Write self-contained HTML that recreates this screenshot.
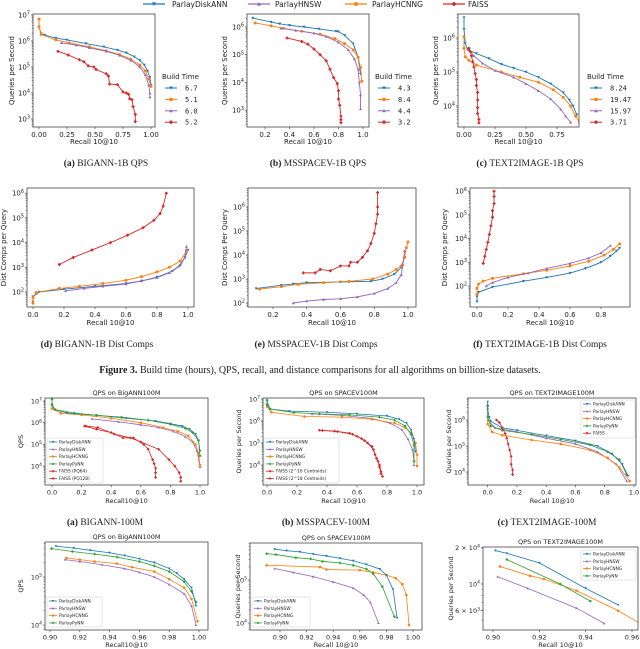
<!DOCTYPE html>
<html><head><meta charset="utf-8">
<style>
html,body{margin:0;padding:0;background:#fff;}
svg{display:block;}
</style></head>
<body>
<svg id="fig" width="640" height="649" viewBox="0 0 640 649" xmlns="http://www.w3.org/2000/svg"></svg>
<script>
// ===== DATA (recall, value) =====
// Row 1: QPS billion-scale
const a1_diskann=[[0,6.8e6],[0,3.5e6],[0.02,1.9e6],[0.05,1.7e6],[0.15,1.3e6],[0.25,1.1e6],[0.42,8e5],[0.58,6e5],[0.7,4.5e5],[0.78,3.5e5],[0.85,2.5e5],[0.9,1.8e5],[0.94,1.2e5],[0.97,7e4],[0.99,4e4],[1.0,2e4]];
const a1_hcnng=[[0,7e6],[0,3.5e6],[0.02,1.8e6],[0.15,1.1e6],[0.27,8.5e5],[0.45,6e5],[0.6,4.2e5],[0.72,3e5],[0.82,2e5],[0.9,1.2e5],[0.95,7e4],[0.98,3.5e4],[1.0,1.8e4]];
const a1_hnsw=[[0.2,8.5e5],[0.33,7e5],[0.45,5.5e5],[0.6,4e5],[0.72,2.8e5],[0.82,1.8e5],[0.9,1e5],[0.95,5e4],[0.98,2e4],[0.99,1e4],[0.99,7e3]];
const a1_faiss=[[0.17,4e5],[0.26,2.9e5],[0.36,1.9e5],[0.4,1.6e5],[0.44,1.1e5],[0.49,1e5],[0.51,8e4],[0.6,5.5e4],[0.62,4.5e4],[0.63,2.2e4],[0.7,2.1e4],[0.75,1.1e4],[0.78,1e4],[0.8,9e3],[0.81,6e3],[0.83,5.5e3],[0.84,3e3],[0.86,1.5e3],[0.86,8e2]];
const b1_diskann=[[0.1,2.1e6],[0.25,1.5e6],[0.32,1.3e6],[0.4,1.15e6],[0.52,1e6],[0.64,8.5e5],[0.78,7e5],[0.8,6.8e5],[0.85,5e5],[0.92,2.5e5],[0.96,8e4],[0.98,2e4]];
const b1_hcnng=[[0.12,1.4e6],[0.25,1.1e6],[0.35,9e5],[0.5,7e5],[0.65,5.5e5],[0.77,3.8e5],[0.85,2.5e5],[0.92,1.5e5],[0.96,8e4],[0.98,3.5e4],[0.99,1.1e4]];
const b1_hnsw=[[0.33,9e5],[0.45,7.5e5],[0.6,6e5],[0.7,4.5e5],[0.8,2.8e5],[0.88,1.5e5],[0.93,7e4],[0.96,3e4],[0.97,1e4],[0.98,3.5e3],[0.98,1.1e3]];
const b1_faiss=[[0.38,4e5],[0.5,3e5],[0.55,2.4e5],[0.6,1.6e5],[0.65,1e5],[0.7,6e4],[0.73,3e4],[0.76,1.5e4],[0.79,9e3],[0.8,5e3],[0.8,2.5e3],[0.81,1.5e3],[0.82,6e2],[0.82,4.5e2],[0.82,3.5e2]];
const c1_diskann=[[0,4e6],[0,1.8e6],[0.01,7e5],[0.03,4.5e5],[0.1,3.5e5],[0.2,2.5e5],[0.3,1.7e5],[0.4,1.3e5],[0.5,1e5],[0.6,7e4],[0.7,4.5e4],[0.8,2.5e4],[0.85,1.5e4],[0.88,1e4],[0.91,5.5e3]];
const c1_hcnng=[[0,1.1e6],[0,5e5],[0.01,2.8e5],[0.04,2.2e5],[0.1,1.6e5],[0.3,1e5],[0.45,7e4],[0.6,5e4],[0.72,3e4],[0.8,1.8e4],[0.86,1e4],[0.9,5e3],[0.93,3.5e3]];
const c1_hnsw=[[0.04,4.5e5],[0.08,3e5],[0.15,1.8e5],[0.25,1.1e5],[0.4,7e4],[0.5,4.5e4],[0.6,2.8e4],[0.7,1.6e4],[0.78,8e3],[0.82,5e3],[0.86,3.3e3]];
const c1_faiss=[[0.04,5e5],[0.05,4e5],[0.06,3e5],[0.07,2e5],[0.08,1.4e5],[0.09,9e4],[0.1,6e4],[0.1,4e4],[0.11,2.5e4],[0.11,1.5e4],[0.11,9e3],[0.11,6e3],[0.12,4e3],[0.12,3.2e3]];
// Row 2: Dist comps
const d2_faiss=[[0.17,1.3e3],[0.26,2.5e3],[0.38,5e3],[0.5,1e4],[0.61,2e4],[0.71,4e4],[0.78,8e4],[0.82,1.5e5],[0.84,3e5],[0.86,1e6]];
const d2_diskann=[[0,40],[0,65],[0.04,100],[0.2,130],[0.4,170],[0.6,220],[0.7,280],[0.8,400],[0.9,700],[0.95,1200],[0.98,2500],[1.0,5000]];
const d2_hcnng=[[0,35],[0,60],[0.02,95],[0.17,140],[0.3,170],[0.45,220],[0.6,300],[0.7,420],[0.8,650],[0.88,1000],[0.95,1800],[0.99,4500]];
const d2_hnsw=[[0.21,110],[0.33,140],[0.45,170],[0.6,210],[0.7,280],[0.8,380],[0.88,600],[0.94,1100],[0.98,2500],[0.99,7000]];
const e2_faiss=[[0.38,1.8e3],[0.45,1.8e3],[0.48,2.5e3],[0.54,2.2e3],[0.6,3.5e3],[0.65,3.5e3],[0.66,5e3],[0.7,5e3],[0.73,8e3],[0.76,1.5e4],[0.78,3e4],[0.8,8e4],[0.81,2e5],[0.82,5e5],[0.82,1e6],[0.82,4e6]];
const e2_diskann=[[0.1,400],[0.25,550],[0.32,620],[0.4,700],[0.6,750],[0.78,800],[0.85,1000],[0.92,1600],[0.96,3000],[0.98,8000]];
const e2_hcnng=[[0.12,380],[0.25,480],[0.35,600],[0.5,700],[0.65,800],[0.79,1000],[0.88,1600],[0.93,2500],[0.96,3500],[0.98,8000],[0.99,2e4],[1.0,3.5e4]];
const e2_hnsw=[[0.32,100],[0.4,120],[0.5,140],[0.6,150],[0.7,180],[0.8,250],[0.88,400],[0.93,700],[0.96,1500],[0.97,4000],[0.98,15000]];
const f2_faiss=[[0.04,900],[0.05,1800],[0.06,3500],[0.07,7000],[0.08,15000],[0.09,35000],[0.1,80000],[0.1,1.5e5],[0.11,3e5],[0.11,6e5],[0.11,1e6]];
const f2_diskann=[[0,22],[0,35],[0.01,55],[0.1,90],[0.3,160],[0.45,230],[0.6,350],[0.7,550],[0.8,1000],[0.86,1800],[0.9,3000],[0.92,4000]];
const f2_hcnng=[[0,45],[0,80],[0.01,120],[0.04,160],[0.1,210],[0.3,330],[0.45,460],[0.6,700],[0.72,1100],[0.82,2000],[0.88,3500],[0.92,6000]];
const f2_hnsw=[[0.06,100],[0.1,140],[0.2,230],[0.33,350],[0.45,550],[0.6,900],[0.72,1500],[0.8,2500],[0.86,5000]];
// Row 3: 100M QPS
const a3_diskann=[[0,1.2e7],[0,6e6],[0.02,4e6],[0.1,2.8e6],[0.3,2.2e6],[0.5,1.6e6],[0.7,1.2e6],[0.8,9e5],[0.88,7e5],[0.93,5e5],[0.97,3e5],[0.99,1.5e5],[1.0,5e4]];
const a3_pynn=[[0,1.2e7],[0,7e6],[0.02,4e6],[0.15,2.8e6],[0.3,2.2e6],[0.47,1.8e6],[0.65,1.3e6],[0.8,8.5e5],[0.9,5.5e5],[0.95,3.5e5],[0.99,1.5e5],[1.0,3e4]];
const a3_hcnng=[[0,4.5e6],[0.06,2.7e6],[0.2,2.3e6],[0.4,1.6e6],[0.6,1e6],[0.75,6e5],[0.85,4e5],[0.92,2.5e5],[0.97,1e5],[0.99,4e4],[1.0,1.1e4]];
const a3_hnsw=[[0.27,1.5e6],[0.45,1.1e6],[0.6,8e5],[0.72,6e5],[0.82,4e5],[0.9,2.3e5],[0.95,1.3e5],[0.98,5e4],[1.0,9e3]];
const a3_pq64=[[0.22,7e5],[0.3,5e5],[0.4,3.5e5],[0.48,2e5],[0.55,2e5],[0.62,1e5],[0.65,6e4],[0.68,2e4],[0.69,1.3e4],[0.7,8e3],[0.7,5e3],[0.7,3e3]];
const a3_pq128=[[0.23,7e5],[0.31,6e5],[0.42,3e5],[0.53,2e5],[0.6,1.3e5],[0.72,6e4],[0.79,2e4],[0.83,1e4],[0.86,5e3],[0.87,3e3],[0.87,2e3]];
const b3_diskann=[[0,8e6],[0.02,3.5e6],[0.15,2.8e6],[0.4,2.5e6],[0.6,2.1e6],[0.8,1.7e6],[0.88,1.2e6],[0.93,8e5],[0.96,4e5],[0.98,1.5e5],[0.99,4e4]];
const b3_pynn=[[0,9e6],[0,5.5e6],[0.02,3.5e6],[0.18,2.4e6],[0.35,2.1e6],[0.55,1.9e6],[0.75,1.5e6],[0.85,1.1e6],[0.92,6e5],[0.96,2.5e5],[0.98,8e4],[0.98,1.5e4]];
const b3_hcnng=[[0,4.5e6],[0.03,2.5e6],[0.25,1.6e6],[0.5,1.5e6],[0.7,1.2e6],[0.85,8e5],[0.92,5e5],[0.96,3e5],[0.99,1e5],[1.0,3e4],[1.0,9e3]];
const b3_hnsw=[[0.3,2.1e6],[0.5,1.8e6],[0.7,1.3e6],[0.82,8e5],[0.9,4e5],[0.94,1.5e5],[0.97,5e4],[0.98,1.5e4],[0.98,1e4]];
const b3_c16=[[0.35,3.8e5],[0.45,3.5e5],[0.55,2.8e5],[0.6,2e5],[0.65,1.3e5],[0.7,7e4],[0.72,3e4],[0.74,1.5e4],[0.75,8e3],[0.76,4e3]];
const b3_c18=[[0.37,3.7e5],[0.47,3.3e5],[0.57,2.5e5],[0.63,1.6e5],[0.67,1e5],[0.71,5e4],[0.73,2e4],[0.75,1e4],[0.76,5e3],[0.77,3e3]];
const c3_diskann=[[0,5e6],[0,2.5e6],[0.01,1.3e6],[0.02,9e5],[0.1,5e5],[0.2,4e5],[0.4,2.5e5],[0.6,1.6e5],[0.75,1e5],[0.85,5e4],[0.92,2e4],[0.96,7e3]];
const c3_pynn=[[0,3.5e6],[0,1.3e6],[0.02,6e5],[0.1,4e5],[0.3,2.8e5],[0.5,1.8e5],[0.7,1.1e5],[0.82,6e4],[0.9,3e4],[0.95,8e3]];
const c3_hcnng=[[0,3.5e6],[0,7e5],[0.03,3.5e5],[0.1,2.6e5],[0.3,1.7e5],[0.5,1.2e5],[0.7,7e4],[0.82,3.5e4],[0.9,1.5e4],[0.97,4.5e3]];
const c3_hnsw=[[0,1e6],[0.05,5e5],[0.2,3.5e5],[0.4,2e5],[0.6,1.2e5],[0.75,6e4],[0.88,2e4],[0.95,4.5e3]];
const c3_faiss=[[0.06,1e6],[0.08,8e5],[0.1,5e5],[0.12,3e5],[0.13,2e5],[0.14,1.2e5],[0.15,7e4],[0.16,4e4],[0.16,2e4],[0.17,1.2e4],[0.17,8e3]];
// Row 4: high-recall zoom
const a4_diskann=[[0.904,4.4e5],[0.916,4e5],[0.927,3.6e5],[0.94,3.2e5],[0.95,2.8e5],[0.96,2.4e5],[0.97,2e5],[0.98,1.5e5],[0.985,1.2e5],[0.99,9e4],[0.995,6e4],[0.998,2.5e4]];
const a4_pynn=[[0.901,3.9e5],[0.915,3.4e5],[0.93,3e5],[0.945,2.6e5],[0.96,2.1e5],[0.97,1.7e5],[0.98,1.3e5],[0.99,8e4],[0.995,5e4],[0.998,3e4]];
const a4_hcnng=[[0.911,2.5e5],[0.92,2.3e5],[0.93,2.1e5],[0.945,1.9e5],[0.955,1.6e5],[0.97,1.3e5],[0.98,9e4],[0.99,6e4],[0.995,3.5e4],[0.999,1.2e4]];
const a4_hnsw=[[0.91,2.3e5],[0.92,2.1e5],[0.935,1.8e5],[0.95,1.5e5],[0.96,1.25e5],[0.97,1e5],[0.98,7e4],[0.99,4.5e4],[0.995,2.5e4],[0.998,1e4]];
const b4_diskann=[[0.896,5.2e5],[0.905,4.8e5],[0.915,4.5e5],[0.925,4e5],[0.935,3.6e5],[0.945,3.2e5],[0.955,2.8e5],[0.965,2.3e5],[0.975,1.8e5],[0.98,1.3e5],[0.985,6e4],[0.988,1.3e4]];
const b4_pynn=[[0.89,4.1e5],[0.897,3.9e5],[0.912,3.3e5],[0.923,3.1e5],[0.932,2.7e5],[0.945,2.5e5],[0.955,2.2e5],[0.965,1.8e5],[0.97,1.4e5],[0.977,7e4],[0.986,1.4e4]];
const b4_hcnng=[[0.89,2.2e5],[0.93,2e5],[0.935,1.75e5],[0.96,1.7e5],[0.97,1.5e5],[0.98,1.3e5],[0.987,1.1e5],[0.992,8e4],[0.995,4.5e4],[0.997,9e3]];
const b4_hnsw=[[0.896,1.85e5],[0.91,1.5e5],[0.925,1.2e5],[0.94,9e4],[0.955,6.5e4],[0.963,4.5e4],[0.968,3e4],[0.974,1e4]];
const c4_diskann=[[0.901,1.9e4],[0.906,1.8e4],[0.92,1.5e4],[0.94,9.2e3],[0.954,6.7e3]];
const c4_hnsw=[[0.902,1.15e4],[0.915,9.2e3],[0.936,6.3e3],[0.948,4.7e3]];
const c4_hcnng=[[0.903,1.4e4],[0.916,1.17e4],[0.922,1.1e4],[0.936,8.8e3],[0.954,6e3],[0.965,4.5e3]];
const c4_pynn=[[0.906,1.6e4],[0.929,1e4],[0.942,7.2e3]];
// Tick labels
const xt_q = [0,0.25,0.5,0.75,1.0];
const xtl_q = ["0.00","0.25","0.50","0.75","1.00"];
const xt_b = [0.2,0.4,0.6,0.8,1.0];
const xtl_b = ["0.2","0.4","0.6","0.8","1.0"];
const xt_c = [0,0.25,0.5,0.75];
const xtl_c = ["0.00","0.25","0.50","0.75"];
const xt_d = [0,0.2,0.4,0.6,0.8,1.0];
const xtl_d = ["0.0","0.2","0.4","0.6","0.8","1.0"];
const xt_f = [0,0.2,0.4,0.6,0.8];
const xtl_f = ["0.0","0.2","0.4","0.6","0.8"];
const xt_h = [0.90,0.92,0.94,0.96,0.98,1.00];
const xtl_h = ["0.90","0.92","0.94","0.96","0.98","1.00"];
const xt_t = [0.90,0.92,0.94,0.96];
const xtl_t = ["0.90","0.92","0.94","0.96"];
const yt_c4 = [2e4,1e4,6e3];
const ytl_c4 = ["2 × 10^4","10^4","6 × 10^3"];

// ===== DRAWING =====
const NS="http://www.w3.org/2000/svg";
const svg=document.getElementById('fig');
const COL={blue:'#1f77b4',orange:'#ff7f0e',purple:'#9467bd',red:'#d62728',green:'#2ca02c'};
function mk(tag,attrs,parent){const e=document.createElementNS(NS,tag);for(const k in attrs)e.setAttribute(k,attrs[k]);(parent||svg).appendChild(e);return e;}
function txt(str,x,y,size,anchor,parent,family,weight){
  const t=mk('text',{x:x,y:y,'font-size':size,'text-anchor':anchor||'middle','font-family':family||'"DejaVu Sans", "Liberation Sans", sans-serif',fill:'#222'},parent);
  if(weight)t.setAttribute('font-weight',weight);
  const idx=str.indexOf('10^');
  if(idx>=0){
    t.appendChild(document.createTextNode(str.slice(0,idx+2)));
    const s=mk('tspan',{'font-size':size*0.7,dy:-size*0.4},t);s.textContent=str.slice(idx+3);
  } else {
    t.appendChild(document.createTextNode(str));
  }
  return t;
}
function marker(type,x,y,c,r,g){
  let e;
  if(type==='o'){e=mk('circle',{cx:x,cy:y,r:r,fill:c},g);}
  else if(type==='v'){e=mk('path',{d:`M${x-r},${y-r*0.8}L${x+r},${y-r*0.8}L${x},${y+r}Z`,fill:c},g);}
  else if(type==='^'){e=mk('path',{d:`M${x-r},${y+r*0.8}L${x+r},${y+r*0.8}L${x},${y-r}Z`,fill:c},g);}
  else {const w=r*0.45;e=mk('path',{d:`M${x-w},${y-r}h${2*w}v${r-w}h${r-w}v${2*w}h${-(r-w)}v${r-w}h${-2*w}v${-(r-w)}h${-(r-w)}v${-2*w}h${r-w}Z`,fill:c},g);}
  
  
}
let clipId=0;
function panel(cfg){
  const g=mk('g',{});
  
  
  const X=v=>cfg.xp0+(v-cfg.xv0)*(cfg.xp1-cfg.xp0)/(cfg.xv1-cfg.xv0);
  const Y=v=>cfg.yp0-(Math.log10(v)-cfg.ye0)*cfg.dec;
  const fs=cfg.fs||7;
  const eLo=Math.floor(cfg.ye0-(cfg.y1-cfg.yp0)/cfg.dec)-1, eHi=Math.ceil(cfg.ye0+(cfg.yp0-cfg.y0)/cfg.dec)+1;
  for(let e=eLo;e<=eHi;e++){for(let m=2;m<10;m++){const py=Y(m*Math.pow(10,e));if(py>cfg.y0&&py<cfg.y1)mk('line',{x1:cfg.x0-1.3,x2:cfg.x0,y1:py,y2:py,stroke:'#333','stroke-width':0.5},g);}}
  if(cfg.yv){cfg.yv.forEach((v,i)=>{const py=Y(v);mk('line',{x1:cfg.x0-2.2,x2:cfg.x0,y1:py,y2:py,stroke:'#333','stroke-width':0.6},g);const t=txt(cfg.yl[i],cfg.x0-3,py+fs*0.35,fs,'end',g);});}
  else{for(let e=eLo;e<=eHi;e++){const py=Y(Math.pow(10,e));if(py>=cfg.y0-0.5&&py<=cfg.y1+0.5){mk('line',{x1:cfg.x0-2.2,x2:cfg.x0,y1:py,y2:py,stroke:'#333','stroke-width':0.6},g);const t=txt('10^'+e,cfg.x0-3,py+fs*0.35,fs,'end',g);}}}
  cfg.xt.forEach((v,i)=>{const px=X(v);mk('line',{x1:px,x2:px,y1:cfg.y1,y2:cfg.y1+2.2,stroke:'#333','stroke-width':0.6},g);const t=txt(cfg.xtl[i],px,cfg.y1+3+fs,fs,'middle',g);});
  const cid='clip'+(clipId++);
  const cp=mk('clipPath',{id:cid},g);mk('rect',{x:cfg.x0,y:cfg.y0,width:cfg.x1-cfg.x0,height:cfg.y1-cfg.y0},cp);
  const sg=mk('g',{'clip-path':`url(#${cid})`},g);
  cfg.series.forEach(s=>{
    const pts=s.data.map(p=>[X(p[0]),Y(p[1])]);
    const pl=mk('polyline',{points:pts.map(p=>p.join(',')).join(' '),fill:'none',stroke:COL[s.c],'stroke-width':cfg.lw||0.9},sg);
    
    
    pts.forEach(p=>marker(s.m,p[0],p[1],COL[s.c],cfg.mr||1.5,sg));
  });
  const fr=mk('rect',{x:cfg.x0,y:cfg.y0,width:cfg.x1-cfg.x0,height:cfg.y1-cfg.y0,fill:'none',stroke:'#444','stroke-width':0.8},g);
  
  const xl=txt(cfg.xlabel,(cfg.x0+cfg.x1)/2,cfg.xly,fs,'middle',g);
  
  const yl=txt(cfg.ylabel,0,0,fs,'middle',g);
  yl.setAttribute('transform',`translate(${cfg.ylx},${(cfg.y0+cfg.y1)/2}) rotate(-90)`);
  
  if(cfg.title){const tt=txt(cfg.title,(cfg.x0+cfg.x1)/2,cfg.y0-3,fs,'middle',g);}
  if(cfg.leg){
    const L=cfg.leg;const lg=mk('g',{},g);
    
    mk('rect',{x:L.x,y:L.y,width:L.w,height:L.h,fill:'#fff','fill-opacity':0.85,stroke:'#ccc','stroke-width':0.5,rx:1},lg);
    L.items.forEach((it,i)=>{const yy=L.y+4+i*L.dy;
      mk('line',{x1:L.x+2,x2:L.x+10,y1:yy,y2:yy,stroke:COL[it.c],'stroke-width':0.8},lg);
      marker(it.m,L.x+6,yy,COL[it.c],1.2,lg);
      const t=txt(it.t,L.x+12,yy+1.5,4.3,'start',lg);});
  }
  return g;
}
function S(data,c,m,n){return {data:data,c:c,m:m,n:n};}

// Row 1
panel({name:'bigann-1b-qps',x0:33,x1:155,y0:14,y1:127,xv0:0,xp0:39,xv1:1,xp1:151,ye0:7,yp0:15,dec:26,xt:xt_q,xtl:xtl_q,xlabel:'Recall 10@10',xly:144,ylabel:'Queries per Second',ylx:14,
 series:[S(a1_diskann,'blue','v','diskann-line'),S(a1_hcnng,'orange','o','hcnng-line'),S(a1_hnsw,'purple','^','hnsw-line'),S(a1_faiss,'red','P','faiss-line')]});
panel({name:'msspacev-1b-qps',x0:247,x1:369,y0:14,y1:127,xv0:0.2,xp0:265,xv1:1.0,xp1:363,ye0:6,yp0:27,dec:27.7,xt:xt_b,xtl:xtl_b,xlabel:'Recall 10@10',xly:144,ylabel:'Queries per Second',ylx:227,
 series:[S(b1_diskann,'blue','v','diskann-line'),S(b1_hcnng,'orange','o','hcnng-line'),S(b1_hnsw,'purple','^','hnsw-line'),S(b1_faiss,'red','P','faiss-line')]});
panel({name:'text2image-1b-qps',x0:458,x1:579,y0:14,y1:127,xv0:0,xp0:464,xv1:0.75,xp1:557,ye0:6,yp0:38,dec:34,xt:xt_c,xtl:xtl_c,xlabel:'Recall 10@10',xly:144,ylabel:'Queries per Second',ylx:438,
 series:[S(c1_diskann,'blue','v','diskann-line'),S(c1_hcnng,'orange','o','hcnng-line'),S(c1_hnsw,'purple','^','hnsw-line'),S(c1_faiss,'red','P','faiss-line')]});
// Row 2
panel({name:'bigann-1b-dist-comps',x0:27,x1:194,y0:188,y1:307,xv0:0,xp0:33,xv1:1,xp1:188,ye0:2,yp0:292,dec:24.7,xt:xt_d,xtl:xtl_d,xlabel:'Recall 10@10',xly:325,ylabel:'Dist Comps per Query',ylx:6,
 series:[S(d2_faiss,'red','P','faiss-line'),S(d2_diskann,'blue','v','diskann-line'),S(d2_hcnng,'orange','o','hcnng-line'),S(d2_hnsw,'purple','^','hnsw-line')]});
panel({name:'msspacev-1b-dist-comps',x0:248,x1:416,y0:188,y1:307,xv0:0.2,xp0:273,xv1:1.0,xp1:408,ye0:2,yp0:303,dec:24,xt:xt_b,xtl:xtl_b,xlabel:'Recall 10@10',xly:325,ylabel:'Dist Comps Per Query',ylx:227,
 series:[S(e2_faiss,'red','P','faiss-line'),S(e2_diskann,'blue','v','diskann-line'),S(e2_hcnng,'orange','o','hcnng-line'),S(e2_hnsw,'purple','^','hnsw-line')]});
panel({name:'text2image-1b-dist-comps',x0:470,x1:630,y0:188,y1:307,xv0:0,xp0:477,xv1:0.8,xp1:601,ye0:2,yp0:286,dec:23.7,xt:xt_f,xtl:xtl_f,xlabel:'Recall 10@10',xly:325,ylabel:'Dist Comps per Query',ylx:447,
 series:[S(f2_faiss,'red','P','faiss-line'),S(f2_diskann,'blue','v','diskann-line'),S(f2_hcnng,'orange','o','hcnng-line'),S(f2_hnsw,'purple','^','hnsw-line')]});
// Row 3
const leg5=[{t:'ParlayDiskANN',c:'blue',m:'v'},{t:'ParlayHNSW',c:'purple',m:'^'},{t:'ParlayHCNNG',c:'orange',m:'o'},{t:'ParlayPyNN',c:'green',m:'P'}];
panel({name:'bigann-100m-qps',x0:45,x1:208,y0:398,y1:485,xv0:0,xp0:52,xv1:1,xp1:200,ye0:7,yp0:401,dec:21.7,fs:6.5,mr:1.3,lw:0.8,xt:xt_d,xtl:xtl_d,xlabel:'Recall10@10',xly:503,ylabel:'QPS',ylx:23,title:'QPS on BigANN100M',
 series:[S(a3_pq64,'red','P','faiss-pq64-line'),S(a3_pq128,'red','P','faiss-pq128-line'),S(a3_hnsw,'purple','^','hnsw-line'),S(a3_hcnng,'orange','o','hcnng-line'),S(a3_diskann,'blue','v','diskann-line'),S(a3_pynn,'green','P','pynn-line')],
 leg:{x:47,y:438,w:56,h:45,dy:7.3,items:leg5.concat([{t:'FAISS (PQ64)',c:'red',m:'P'},{t:'FAISS (PQ128)',c:'red',m:'P'}])}});
panel({name:'msspacev-100m-qps',x0:263,x1:424,y0:398,y1:485,xv0:0,xp0:267,xv1:1,xp1:417,ye0:7,yp0:399,dec:22,fs:6.5,mr:1.3,lw:0.8,xt:xt_d,xtl:xtl_d,xlabel:'Recall 10@10',xly:503,ylabel:'Queries per Second',ylx:241,title:'QPS on SPACEV100M',
 series:[S(b3_c16,'red','P','faiss-2-16-line'),S(b3_c18,'red','P','faiss-2-18-line'),S(b3_hnsw,'purple','^','hnsw-line'),S(b3_hcnng,'orange','o','hcnng-line'),S(b3_diskann,'blue','v','diskann-line'),S(b3_pynn,'green','P','pynn-line')],
 leg:{x:264,y:438,w:75,h:45,dy:7.3,items:leg5.concat([{t:'FAISS (2^16 Centroids)',c:'red',m:'P'},{t:'FAISS (2^18 Centroids)',c:'red',m:'P'}])}});
panel({name:'text2image-100m-qps',x0:468,x1:636,y0:398,y1:485,xv0:0,xp0:487.7,xv1:1,xp1:634,ye0:6,yp0:420,dec:26,fs:6.5,mr:1.3,lw:0.8,xt:xt_d,xtl:xtl_d,xlabel:'Recall 10@10',xly:503,ylabel:'Queries per Second',ylx:451,title:'QPS on TEXT2IMAGE100M',
 series:[S(c3_hnsw,'purple','^','hnsw-line'),S(c3_hcnng,'orange','o','hcnng-line'),S(c3_pynn,'green','P','pynn-line'),S(c3_diskann,'blue','v','diskann-line'),S(c3_faiss,'red','P','faiss-line')],
 leg:{x:581,y:400,w:54,h:38,dy:7.3,items:leg5.concat([{t:'FAISS',c:'red',m:'P'}])}});
// Row 4
panel({name:'bigann-100m-high-recall',x0:45,x1:208,y0:542,y1:630,xv0:0.9,xp0:50,xv1:1.0,xp1:199,ye0:5,yp0:577,dec:48,fs:6.5,mr:1.3,lw:0.8,xt:xt_h,xtl:xtl_h,xlabel:'Recall10@10',xly:647,ylabel:'QPS',ylx:23,title:'QPS on BigANN100M',
 series:[S(a4_hnsw,'purple','^','hnsw-line'),S(a4_hcnng,'orange','o','hcnng-line'),S(a4_pynn,'green','P','pynn-line'),S(a4_diskann,'blue','v','diskann-line')],
 leg:{x:47,y:597,w:55,h:30,dy:7.3,items:leg5}});
panel({name:'spacev-100m-high-recall',x0:250,x1:422,y0:543,y1:630,xv0:0.9,xp0:280,xv1:1.0,xp1:413,ye0:5,yp0:580,dec:43,fs:6.5,mr:1.3,lw:0.8,xt:xt_h,xtl:xtl_h,xlabel:'Recall 10@10',xly:647,ylabel:'Queries per Second',ylx:240,title:'QPS on SPACEV100M',
 series:[S(b4_hnsw,'purple','^','hnsw-line'),S(b4_hcnng,'orange','o','hcnng-line'),S(b4_pynn,'green','P','pynn-line'),S(b4_diskann,'blue','v','diskann-line')],
 leg:{x:252,y:597,w:58,h:30,dy:7.3,items:leg5}});
panel({name:'text2image-100m-high-recall',x0:483,x1:638,y0:547,y1:630,xv0:0.9,xp0:493,xv1:0.96,xp1:632,ye0:4,yp0:584,dec:120,fs:6.5,mr:1.3,lw:0.8,xt:xt_t,xtl:xtl_t,yv:yt_c4,yl:ytl_c4,xlabel:'Recall 10@10',xly:647,ylabel:'Queries per Second',ylx:453,title:'QPS on TEXT2IMAGE100M',
 series:[S(c4_hnsw,'purple','^','hnsw-line'),S(c4_hcnng,'orange','o','hcnng-line'),S(c4_pynn,'green','P','pynn-line'),S(c4_diskann,'blue','v','diskann-line')],
 leg:{x:581,y:550,w:55,h:30,dy:7.3,items:leg5}});

// Top legend
const tl=mk('g',{});
[[143,172,'ParlayDiskANN','blue','v'],[248,275,'ParlayHNSW','purple','^'],[345,372,'ParlayHCNNG','orange','o'],[443,468,'FAISS','red','P']].forEach(a=>{
  mk('line',{x1:a[0],x2:a[0]+22,y1:4,y2:4,stroke:COL[a[3]],'stroke-width':1.3},tl);
  marker(a[4],a[0]+11,4,COL[a[3]],2,tl);
  const t=txt(a[2],a[1],7,7.5,'start',tl);
});
// Build time legends
function btLeg(x,vals){
  const g=mk('g',{});
  const t=txt('Build Time',x,79,7,'start',g);
  const cs=[['blue','v'],['orange','o'],['purple','^'],['red','P']];
  vals.forEach((v,i)=>{const y=88+i*11.4;
    mk('line',{x1:x+3,x2:x+15,y1:y,y2:y,stroke:COL[cs[i][0]],'stroke-width':1},g);
    marker(cs[i][1],x+9,y,COL[cs[i][0]],1.8,g);
    const tt=txt(v,x+23,y+2.5,7,'start',g,'"DejaVu Sans Mono", "Liberation Mono", monospace');});
}
btLeg(162,['6.7','5.1','6.0','5.2']);
btLeg(375,['4.3','8.4','4.4','3.2']);
btLeg(587,['8.24','19.47','15.97','3.71']);
// Captions
function cap(label,rest,x,y){
  const t=mk('text',{x:x,y:y,'font-size':9.5,'text-anchor':'middle','font-family':'"Liberation Serif", serif',fill:'#222'});
  
  const b=mk('tspan',{'font-weight':'bold'},t);b.textContent=label+' ';
  const r=mk('tspan',{},t);r.textContent=rest;
}
cap('(a)','BIGANN-1B QPS',106,166);
cap('(b)','MSSPACEV-1B QPS',318,166);
cap('(c)','TEXT2IMAGE-1B QPS',530,166);
cap('(d)','BIGANN-1B Dist Comps',97,347);
cap('(e)','MSSPACEV-1B Dist Comps',316,347);
cap('(f)','TEXT2IMAGE-1B Dist Comps',540,347);
cap('(a)','BIGANN-100M',105,525);
cap('(b)','MSSPACEV-100M',326,525);
cap('(c)','TEXT2IMAGE-100M',547,525);
const fc=mk('text',{x:320,y:373,'font-size':10,'text-anchor':'middle','font-family':'"Liberation Serif", serif',fill:'#222'});

const fb=mk('tspan',{'font-weight':'bold'},fc);fb.textContent='Figure 3. ';
const fr2=mk('tspan',{},fc);fr2.textContent='Build time (hours), QPS, recall, and distance comparisons for all algorithms on billion-size datasets.';
</script>
</body></html>
